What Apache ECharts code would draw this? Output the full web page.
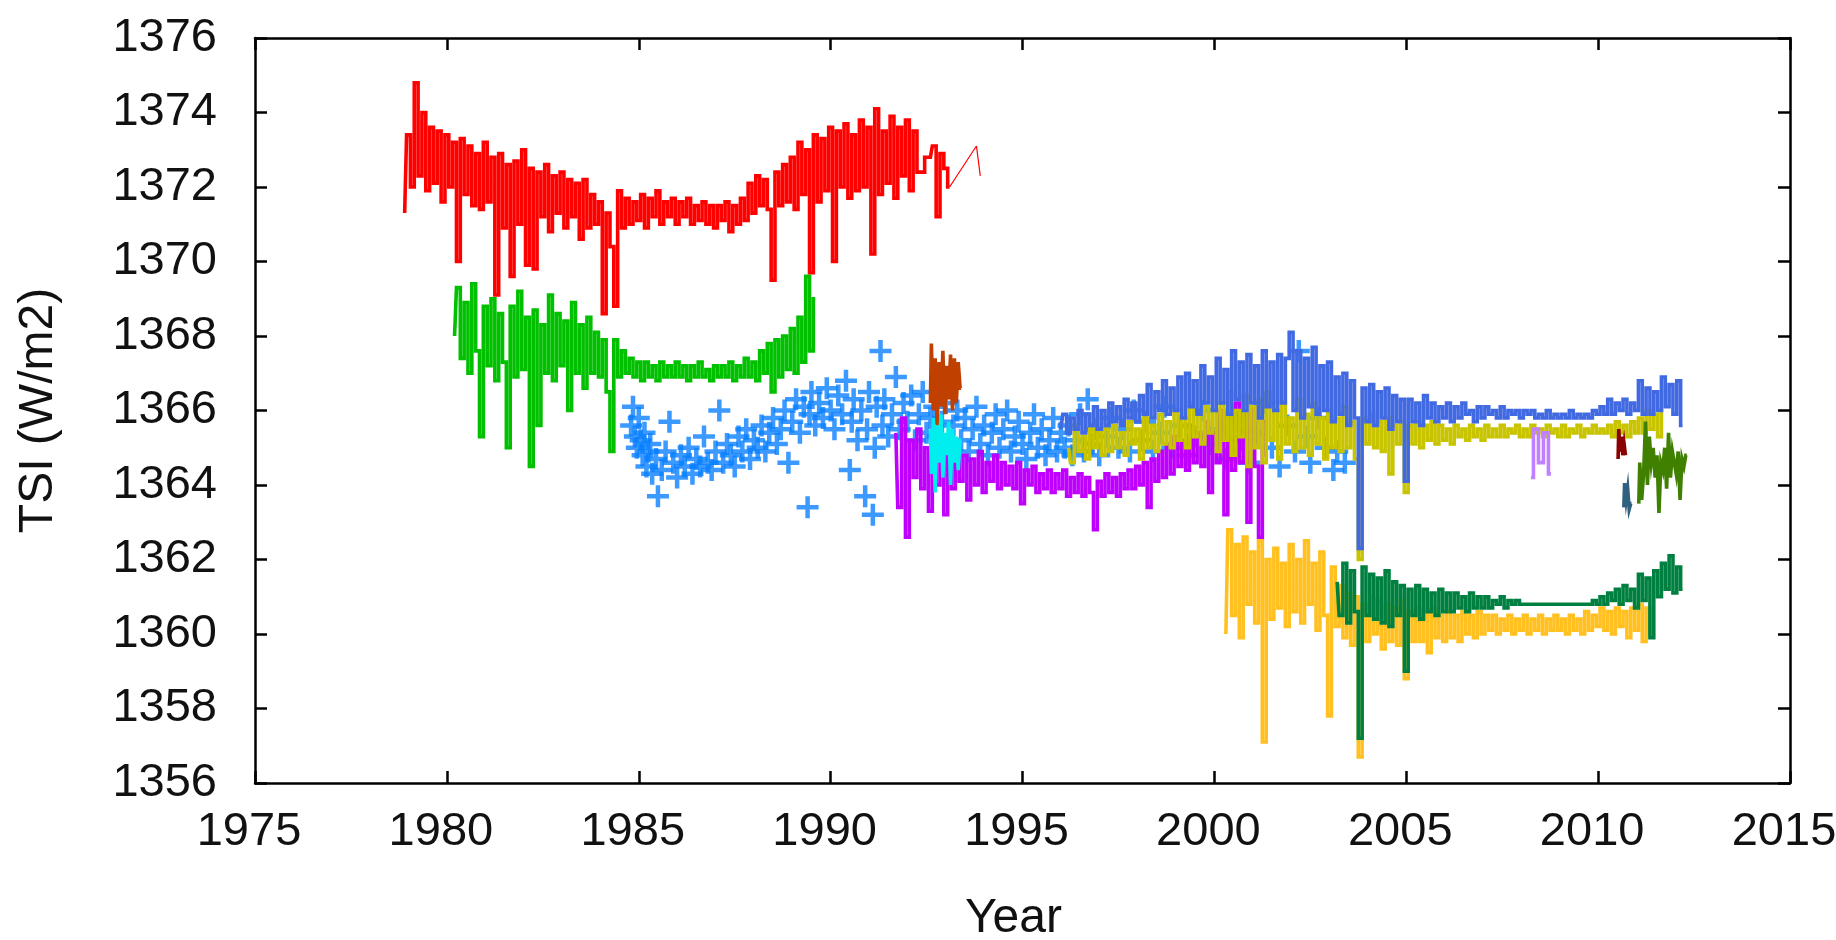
<!DOCTYPE html>
<html>
<head>
<meta charset="utf-8">
<script src="https://cdn.jsdelivr.net/npm/echarts@6/dist/echarts.min.js"></script>
<style>
html,body{margin:0;padding:0;background:#fff;}
#chart{width:1836px;height:940px;}
</style>
</head>
<body>
<div id="chart"></div>
<script>
// ---- axis ticks ----
const xTicks = [1975, 1980, 1985, 1990, 1995, 2000, 2005, 2010, 2015];
const yTicks = [1356, 1358, 1360, 1362, 1364, 1366, 1368, 1370, 1372, 1374, 1376];

// ---- series: start year, step (years) ----
const redStart = 1978.9, redStep = 0.1;
const redVals = [
1371.3,1373.4,1372.0,1374.8,1372.3,1374.0,1371.9,1373.6,1372.1,1373.5,
1371.6,1373.4,1372.0,1373.2,1370.0,1373.3,1371.8,1373.1,1371.5,1372.9,
1371.4,1373.2,1371.6,1372.8,1369.1,1372.9,1370.9,1372.6,1369.6,1372.7,
1371.0,1373.0,1369.9,1372.5,1369.8,1372.4,1371.2,1372.6,1370.8,1372.3,
1371.3,1372.4,1370.9,1372.2,1371.2,1372.1,1370.6,1372.2,1370.9,1371.8,
1371.0,1371.6,1368.6,1371.3,1370.4,1368.8,1371.9,1370.9,1371.7,1371.0,
1371.6,1371.1,1371.8,1370.9,1371.7,1371.2,1371.9,1371.0,1371.6,1371.2,
1371.7,1371.0,1371.6,1371.2,1371.7,1371.0,1371.5,1371.1,1371.6,1371.0,
1371.5,1370.9,1371.5,1371.1,1371.6,1370.8,1371.5,1371.0,1371.7,1371.1,
1372.1,1371.3,1372.3,1371.5,1372.2,1371.4,1369.5,1372.4,1371.5,1372.6,
1371.6,1372.8,1371.4,1373.2,1371.8,1373.0,1369.7,1373.4,1371.6,1373.3,
1371.9,1373.6,1370.0,1373.5,1372.0,1373.7,1371.7,1373.4,1371.9,1373.8,
1372.0,1373.6,1370.2,1374.1,1371.8,1373.5,1372.1,1373.9,1371.7,1373.6,
1372.3,1373.8,1371.9,1373.5,1372.4,null,null,1372.8,1373.1,1371.2,
1372.9,1372.5,1372.0
];
// sparse end of the red record (joined by a plain line)
const redTailYears = [1993.1, 1993.8, 1993.9];
const redTailVals = [1372.0, 1373.1, 1372.3];

const grnStart = 1980.2, grnStep = 0.1;
const grnVals = [
1368.0,1369.3,1367.4,1368.9,1367.0,1369.4,1367.6,1365.3,1368.8,1367.2,
1369.0,1366.8,1368.6,1367.3,1365.0,1368.8,1366.9,1369.2,1367.1,1368.5,
1364.5,1368.7,1365.6,1368.3,1367.0,1369.1,1366.8,1368.6,1367.2,1368.4,
1366.0,1368.9,1367.0,1368.3,1366.6,1368.5,1367.0,1368.1,1366.9,1367.9,
1366.5,1364.9,1367.9,1366.9,1367.6,1367.0,1367.4,1366.9,1367.3,1366.8,
1367.3,1366.9,1367.2,1366.8,1367.3,1366.9,1367.2,1366.9,1367.3,1366.9,
1367.2,1366.8,1367.2,1366.9,1367.3,1366.9,1367.1,1366.8,1367.2,1366.9,
1367.2,1366.9,1367.3,1366.8,1367.2,1366.9,1367.4,1366.9,1367.3,1366.8,
1367.6,1367.0,1367.8,1366.5,1367.9,1366.9,1368.0,1367.1,1368.2,1367.0,
1368.5,1367.3,1369.6,1367.6,1369.0
];

const purStart = 1991.7, purStep = 0.1;
const purVals = [
1365.4,1363.4,1365.8,1362.6,1365.2,1364.2,1365.5,1363.9,1365.0,1363.3,
1364.9,1364.0,1365.1,1363.2,1364.8,1363.9,1365.0,1364.1,1364.8,1363.6,
1364.7,1364.0,1364.9,1363.8,1364.6,1364.1,1364.8,1363.9,1364.6,1364.0,
1364.5,1363.9,1364.6,1363.5,1364.4,1364.0,1364.5,1363.8,1364.3,1363.9,
1364.4,1363.8,1364.3,1363.9,1364.4,1363.7,1364.2,1363.8,1364.3,1363.7,
1364.2,1363.8,1362.8,1364.1,1363.7,1364.3,1363.8,1364.2,1363.7,1364.3,
1363.9,1364.4,1363.9,1364.5,1364.0,1364.6,1363.4,1364.7,1364.1,1364.9,
1364.2,1365.1,1364.3,1365.3,1364.5,1365.2,1364.4,1365.6,1364.6,1365.4,
1364.5,1365.7,1363.8,1365.4,1364.6,1366.0,1363.2,1365.8,1364.4,1366.2,
1364.6,1365.9,1363.0,1366.1,1364.5,1362.6,1365.7,1364.8
];

const virStart = 1996.0, virStep = 0.1;
const virVals = [
1365.5,1365.9,1365.4,1365.8,1365.5,1366.0,1365.4,1365.9,1365.6,1366.1,
1365.5,1366.0,1365.6,1366.2,1365.7,1366.1,1365.6,1366.3,1365.8,1366.2,
1365.7,1366.4,1365.9,1366.7,1365.8,1366.5,1366.0,1366.8,1365.9,1366.6,
1366.0,1366.9,1365.8,1367.0,1366.1,1366.8,1365.9,1367.2,1366.2,1366.9,
1366.0,1367.4,1366.2,1367.1,1365.9,1367.6,1366.3,1367.3,1366.0,1367.5,
1366.2,1367.2,1365.8,1367.6,1366.1,1367.3,1366.0,1367.5,1366.2,1367.4,
1368.1,1366.0,1367.6,1365.8,1367.4,1366.1,1367.7,1365.9,1367.2,1366.0,
1367.3,1365.7,1366.9,1365.9,1367.0,1365.6,1366.8,1365.8,1362.3,1366.6,
1365.7,1366.7,1365.6,1366.5,1365.8,1366.6,1365.5,1366.4,1365.7,1366.3,
1364.1,1366.3,1365.7,1366.2,1365.6,1366.4,1365.8,1366.2,1365.7,1366.1,
1365.8,1366.2,1365.7,1366.1,1365.8,1366.2,1365.9,1366.0,1365.7,1366.1,
1365.8,1366.1,1365.9,1366.0,1365.8,1366.1,1365.8,1366.0,1365.9,1366.0,
1365.8,1366.0,1365.9,1366.0,1365.8,1365.9,1365.8,1366.0,1365.8,1365.9,
1365.8,1365.9,1365.8,1366.0,1365.8,1365.9,1365.8,1365.9,1365.8,1366.0,
1365.9,1366.1,1365.9,1366.3,1365.9,1366.2,1366.0,1366.3,1365.9,1366.2,
1366.0,1366.8,1365.9,1366.6,1365.9,1366.5,1366.0,1366.9,1366.1,1366.7,
1365.9,1366.8,1365.6
];

const olvStart = 1996.2, olvStep = 0.1;
const olvVals = [
1365.0,1364.6,1365.6,1364.9,1365.3,1364.7,1365.5,1365.0,1365.4,1364.8,
1365.5,1364.9,1365.6,1365.0,1365.4,1364.8,1365.7,1365.1,1365.5,1364.7,
1365.8,1365.0,1365.6,1364.9,1365.9,1365.1,1365.7,1365.0,1366.0,1365.2,
1365.8,1365.0,1366.2,1365.3,1365.9,1365.1,1366.1,1365.4,1366.0,1364.9,
1366.2,1365.2,1366.5,1364.8,1366.0,1365.3,1366.4,1364.5,1366.1,1365.0,
1366.3,1364.6,1366.5,1365.2,1366.0,1364.7,1366.2,1365.1,1365.8,1364.9,
1366.3,1365.0,1365.9,1364.8,1366.2,1365.1,1365.8,1364.7,1366.0,1365.0,
1365.8,1364.9,1366.1,1365.0,1365.7,1364.7,1362.0,1365.8,1365.1,1365.9,
1365.0,1365.7,1364.9,1365.8,1364.3,1365.6,1365.1,1365.7,1363.8,1365.6,
1365.1,1365.7,1365.0,1365.6,1365.2,1365.7,1365.1,1365.6,1365.2,1365.5,
1365.1,1365.6,1365.3,1365.5,1365.2,1365.6,1365.3,1365.5,1365.2,1365.6,
1365.3,1365.5,1365.3,1365.6,1365.3,1365.5,1365.4,1365.6,1365.3,1365.5,
1365.3,1365.6,1365.4,1365.5,1365.3,1365.6,1365.4,1365.5,1365.3,1365.6,
1365.3,1365.5,1365.4,1365.6,1365.3,1365.5,1365.4,1365.6,1365.4,1365.5,
1365.4,1365.6,1365.3,1365.7,1365.4,1365.6,1365.3,1365.7,1365.4,1365.8,
1365.4,1366.0,1365.5,1365.9,1365.3,1366.0
];

const acr3Start = 2000.3, acr3Step = 0.1;
const acr3Vals = [
1360.0,1362.8,1360.5,1362.4,1359.9,1362.6,1360.8,1362.2,1360.3,1362.5,
1357.1,1362.0,1360.4,1362.3,1360.7,1361.9,1360.2,1362.4,1360.6,1362.0,
1360.3,1362.5,1360.8,1361.9,1360.1,1362.2,1360.5,1357.8,1361.8,1360.2,
1361.3,1359.9,1361.1,1359.7,1361.0,1356.7,1360.8,1359.8,1361.0,1360.0,
1360.9,1359.6,1360.8,1359.8,1360.7,1359.7,1360.9,1358.8,1360.6,1359.8,
1360.7,1359.8,1360.6,1359.5,1360.7,1359.9,1360.5,1359.8,1360.6,1359.9,
1360.5,1359.8,1360.6,1360.0,1360.5,1359.9,1360.6,1360.0,1360.5,1360.1,
1360.5,1360.0,1360.4,1360.1,1360.5,1360.0,1360.4,1360.1,1360.5,1360.0,
1360.4,1360.1,1360.5,1360.0,1360.4,1360.1,1360.5,1360.1,1360.4,1360.0,
1360.5,1360.1,1360.4,1360.0,1360.6,1360.1,1360.5,1360.2,1360.7,1360.1,
1360.6,1360.0,1360.7,1360.2,1360.6,1359.9,1360.7,1360.1,1360.8,1359.8,
1360.7,1360.0
];

const timStart = 2003.2, timStep = 0.1;
const timVals = [
1361.4,1360.5,1361.9,1360.3,1361.7,1360.6,1357.2,1361.8,1360.5,1361.6,
1360.4,1361.5,1360.3,1361.7,1360.2,1361.4,1360.5,1361.3,1359.0,1361.2,
1360.5,1361.3,1360.4,1361.2,1360.6,1361.1,1360.5,1361.2,1360.6,1361.1,
1360.6,1361.1,1360.7,1361.0,1360.6,1361.1,1360.7,1361.0,1360.7,1361.0,
1360.7,1360.9,1360.8,1361.0,1360.7,1360.9,1360.8,1360.9,1360.8,1360.8,
1360.8,1360.8,1360.8,1360.8,1360.8,1360.8,1360.8,1360.8,1360.8,1360.8,
1360.8,1360.8,1360.8,1360.8,1360.8,1360.8,1360.8,1360.9,1360.8,1361.0,
1360.8,1361.1,1360.9,1361.2,1360.8,1361.3,1360.9,1361.2,1360.7,1361.6,
1360.9,1361.5,1359.9,1361.7,1361.0,1361.9,1361.2,1362.1,1361.1,1361.8,
1361.2
];

const brnStart = 1992.6, brnStep = 0.05;
const brnVals = [1366.2,1367.8,1366.0,1367.4,1365.6,1367.3,1366.1,1367.6,1365.9,1367.2,1366.3,1367.5,1366.0,1367.4,1366.2,1367.3,1366.6];

const cynStart = 1992.6, cynStep = 0.05;
const cynVals = [1365.5,1364.3,1365.8,1363.8,1365.6,1364.6,1365.9,1364.2,1365.4,1364.8,1365.7,1364.0,1365.5,1364.6,1365.3,1364.4,1365.2];

const lpuStart = 2008.25, lpuStep = 0.13;
const lpuVals = [1364.2,1365.5,1364.6,1365.4,1364.3];

const dreStart = 2010.52, dreStep = 0.035;
const dreVals = [1364.7,1365.5,1364.9,1365.3,1364.8,1365.1,1364.8];

const slaStart = 2010.67, slaStep = 0.04;
const slaVals = [1363.4,1364.05,1363.6,1363.9,1363.35,1363.5];

const dogStart = 2011.06, dogStep = 0.05;
const dogVals = [1363.5,1364.6,1363.6,1364.3,1365.7,1364.0,1365.3,1364.6,1365.0,1364.2,1364.8,1363.25,1364.6,1364.4,1365.0,1363.9,1365.4,1364.2,1364.9,1364.6,1364.3,1364.9,1363.6,1364.7,1364.5,1364.8];

// blue crosses: [year, TSI]
const crossYears = [
1984.8,1984.85,1984.9,1984.95,1985.0,1985.05,1985.1,1985.15,1985.2,1985.25,1985.3,1985.35,1985.45,1985.5,1985.6,1985.7,1985.8,1985.9,1986.0,1986.1,
1986.2,1986.3,1986.4,1986.5,1986.6,1986.7,1986.8,1986.9,1987.0,1987.1,1987.2,1987.3,1987.4,1987.5,1987.6,1987.7,1987.8,1987.9,1988.0,1988.1,
1988.2,1988.3,1988.4,1988.5,1988.6,1988.7,1988.8,1988.9,1989.0,1989.1,1989.2,1989.3,1989.4,1989.45,1989.5,1989.6,1989.7,1989.8,1989.9,1990.0,
1990.1,1990.2,1990.3,1990.4,1990.5,1990.55,1990.6,1990.7,1990.8,1990.9,1990.95,1991.0,1991.1,1991.15,1991.2,1991.3,1991.35,1991.4,1991.5,1991.6,
1991.7,1991.8,1991.9,1992.0,1992.1,1992.2,1992.3,1992.4,1992.5,1992.6,1992.7,1992.8,1992.9,1993.0,1993.1,1993.2,1993.3,1993.4,1993.5,1993.6,
1993.7,1993.8,1993.9,1994.0,1994.1,1994.2,1994.3,1994.4,1994.5,1994.6,1994.7,1994.8,1994.9,1995.0,1995.1,1995.2,1995.3,1995.4,1995.5,1995.6,
1995.7,1995.8,1995.9,1996.0,1996.1,1996.2,1996.3,1996.4,1996.5,1996.6,1996.7,1996.8,1996.9,1997.0,1997.2,1997.3,1997.5,1997.6,1997.8,1997.9,
1998.1,1998.2,1998.4,1998.6,1998.7,1998.9,1999.1,1999.3,1999.5,1999.7,1999.9,2000.1,2000.3,2000.5,2000.7,2000.9,2001.1,2001.3,2001.5,2001.7,
2001.9,2002.1,2002.2,2002.4,2002.5,2002.7,2002.9,2003.1,2003.2,2003.4
];
const crossVals = [
1365.6,1366.1,1365.3,1365.0,1365.8,1365.2,1364.8,1365.4,1364.5,1364.9,1365.1,1364.3,1364.7,1363.7,1364.4,1364.9,1365.7,1364.6,1364.2,1364.8,
1364.5,1365.0,1364.3,1364.7,1364.5,1365.3,1364.6,1364.4,1364.9,1366.0,1364.6,1365.1,1364.8,1364.5,1365.3,1364.9,1365.5,1364.7,1365.2,1365.0,
1365.6,1364.9,1365.4,1365.8,1365.1,1365.5,1366.0,1364.6,1365.7,1366.3,1365.4,1366.1,1363.4,1365.9,1366.5,1365.6,1366.2,1365.8,1366.6,1366.0,
1365.5,1366.4,1365.9,1366.8,1364.4,1365.7,1366.3,1365.2,1366.0,1363.7,1365.5,1366.5,1363.2,1365.0,1366.1,1367.6,1365.6,1366.3,1365.3,1365.9,
1366.9,1365.5,1366.2,1365.7,1366.4,1365.2,1365.9,1366.5,1365.4,1365.8,1366.1,1365.3,1365.7,1366.2,1365.0,1365.6,1366.0,1365.2,1365.8,1364.9,
1365.5,1366.1,1365.1,1365.6,1364.8,1365.4,1365.9,1365.0,1365.5,1366.0,1364.9,1365.3,1365.7,1365.1,1364.7,1365.4,1365.9,1365.0,1365.5,1364.8,
1365.2,1365.8,1364.9,1365.4,1365.0,1365.6,1364.8,1365.2,1365.9,1364.9,1366.3,1365.1,1365.5,1364.8,1365.3,1365.8,1365.0,1365.5,1364.9,1366.0,
1365.2,1365.7,1364.9,1365.4,1366.1,1365.0,1365.6,1364.8,1365.3,1366.0,1365.1,1365.5,1364.7,1365.9,1365.2,1364.6,1365.4,1366.2,1365.0,1364.5,
1365.6,1364.9,1367.6,1365.3,1364.6,1365.8,1365.0,1364.4,1364.9,1364.6
];

// ---- build data for the library ----
function seq(start, step, vals) {
  return vals.map((v, i) => [+(start + i * step).toFixed(4), v]);
}
function lineSeries(name, start, step, vals, color, extra) {
  return Object.assign({
    name: name, type: 'line', data: seq(start, step, vals),
    showSymbol: false, symbol: 'none', silent: true, step: 'middle',
    lineStyle: { color: color, width: 3.6, join: 'miter', cap: 'butt' },
    itemStyle: { color: color }
  }, extra || {});
}
const crossData = crossYears.map((y, i) => [y, crossVals[i]]);
const redTailData = redTailYears.map((y, i) => [y, redTailVals[i]]);
const plus = 'path://M8.75,0h4.5v8.75h8.75v4.5h-8.75v8.75h-4.5v-8.75h-8.75v-4.5h8.75z';

const FONT = 'Liberation Sans';
const axisLine = { show: true, onZero: false, lineStyle: { color: '#000', width: 2.5 } };
const axisTick = { show: true, inside: true, length: 12, lineStyle: { color: '#000', width: 2.5 } };

const chart = echarts.init(document.getElementById('chart'), null, { renderer: 'canvas' });
chart.setOption({
  animation: false,
  backgroundColor: '#fff',
  grid: { left: 255, right: 46, top: 38, bottom: 157, containLabel: false, outerBoundsMode: 'none' },
  xAxis: [
    { type: 'value', min: xTicks[0], max: xTicks[xTicks.length - 1], interval: 5,
      position: 'bottom', axisLine: axisLine, axisTick: axisTick, splitLine: { show: false },
      axisLabel: { color: '#111', fontFamily: FONT, fontSize: 47, margin: 26, padding: [0, 12, 0, 0],
        formatter: v => String(v) },
      name: 'Year', nameLocation: 'middle', nameGap: 112,
      nameTextStyle: { color: '#111', fontFamily: FONT, fontSize: 48, padding: [0, 18, 0, 0] } },
    { type: 'value', min: xTicks[0], max: xTicks[xTicks.length - 1], interval: 5,
      position: 'top', axisLine: axisLine, axisTick: axisTick, splitLine: { show: false },
      axisLabel: { show: false } }
  ],
  yAxis: [
    { type: 'value', min: yTicks[0], max: yTicks[yTicks.length - 1], interval: 2,
      position: 'left', axisLine: axisLine, axisTick: axisTick, splitLine: { show: false },
      axisLabel: { color: '#111', fontFamily: FONT, fontSize: 47, margin: 38, formatter: v => String(v) },
      name: 'TSI (W/m2)', nameLocation: 'middle', nameGap: 192, nameRotate: 90,
      nameTextStyle: { color: '#111', fontFamily: FONT, fontSize: 48 } },
    { type: 'value', min: yTicks[0], max: yTicks[yTicks.length - 1], interval: 2,
      position: 'right', axisLine: axisLine, axisTick: axisTick, splitLine: { show: false },
      axisLabel: { show: false } }
  ],
  series: [
    lineSeries('HF', redStart, redStep, redVals, '#ff0000', { connectNulls: true }),
    { name: 'HF tail', type: 'line', data: redTailData, showSymbol: false, symbol: 'none', silent: true,
      lineStyle: { color: '#ff0000', width: 1.2 } },
    lineSeries('ACRIM I', grnStart, grnStep, grnVals, '#00c000'),
    lineSeries('ACRIM II', purStart, purStep, purVals, '#c000ff'),
    lineSeries('DIARAD', olvStart, olvStep, olvVals, '#c8c400'),
    lineSeries('VIRGO', virStart, virStep, virVals, '#4169e1'),
    { name: 'ERBS', type: 'scatter', data: crossData, symbol: plus, symbolSize: [22, 22],
      silent: true, itemStyle: { color: '#0a80ff' } },
    lineSeries('EURECA', brnStart, brnStep, brnVals, '#c04000'),
    lineSeries('ATLAS', cynStart, cynStep, cynVals, '#00eeee'),
    lineSeries('ACRIM III', acr3Start, acr3Step, acr3Vals, '#ffc020'),
    lineSeries('TIM', timStart, timStep, timVals, '#008040'),
    lineSeries('S1', lpuStart, lpuStep, lpuVals, '#c080ff'),
    lineSeries('S2', dreStart, dreStep, dreVals, '#8b0000'),
    lineSeries('S3', slaStart, slaStep, slaVals, '#306080'),
    lineSeries('PREMOS', dogStart, dogStep, dogVals, '#408000')
  ]
});
</script>
</body>
</html>
